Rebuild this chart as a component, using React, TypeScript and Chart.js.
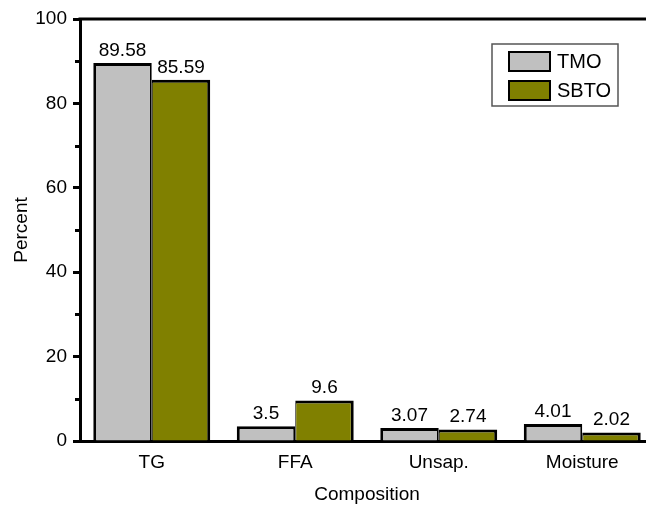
import { useEffect, useRef } from 'react';
import { Chart, registerables } from 'chart.js';

Chart.register(...registerables);

// Composition categories and the two oil series (percent)
const categories = ['TG', 'FFA', 'Unsap.', 'Moisture'];
const seriesNames = ['TMO', 'SBTO'];
const tmoValues = [89.58, 3.5, 3.07, 4.01];
const sbtoValues = [85.59, 9.6, 2.74, 2.02];
const seriesColors = ['#c0c0c0', '#808000'];

// Value axis: labelled every 20, small ticks every 10
const yMin = 0;
const yMax = 100;
const yMajorStep = 20;
const yMinorStep = 10;

const FONT = '"Liberation Sans", Arial, Helvetica, sans-serif';

// Frame line across the top of the plot and the short minor ticks on the y axis
const framePlugin = {
  id: 'frame',
  afterDraw(chart: any) {
    const { ctx, chartArea } = chart;
    const y = chart.scales.y;
    ctx.save();
    ctx.strokeStyle = '#000';
    ctx.lineWidth = 3;
    ctx.beginPath();
    ctx.moveTo(chartArea.left - 1.5, chartArea.top);
    ctx.lineTo(chartArea.right, chartArea.top);
    ctx.stroke();
    for (let v = yMin; v <= yMax; v += yMinorStep) {
      if (v % yMajorStep === 0) continue;
      const py = Math.round(y.getPixelForValue(v)) + 0.5;
      ctx.beginPath();
      ctx.moveTo(chartArea.left - 5, py);
      ctx.lineTo(chartArea.left, py);
      ctx.stroke();
    }
    ctx.restore();
  },
};

// Value labels above each bar
const valueLabelPlugin = {
  id: 'valueLabels',
  afterDatasetsDraw(chart: any) {
    const { ctx } = chart;
    ctx.save();
    ctx.font = `19px ${FONT}`;
    ctx.fillStyle = '#000';
    ctx.textAlign = 'center';
    ctx.textBaseline = 'alphabetic';
    chart.data.datasets.forEach((ds: any, i: number) => {
      const meta = chart.getDatasetMeta(i);
      meta.data.forEach((bar: any, j: number) => {
        ctx.fillText(String(ds.data[j]), bar.x, bar.y - 7);
      });
    });
    ctx.restore();
  },
};

// Boxed legend in the upper right of the plot
const boxLegendPlugin = {
  id: 'boxLegend',
  afterDraw(chart: any) {
    const { ctx } = chart;
    const left = 492;
    const top = 44;
    const width = 126;
    const height = 62;
    ctx.save();
    ctx.fillStyle = '#fff';
    ctx.fillRect(left, top, width, height);
    ctx.strokeStyle = '#555';
    ctx.lineWidth = 1.5;
    ctx.strokeRect(left, top, width, height);
    ctx.font = `20px ${FONT}`;
    ctx.textAlign = 'left';
    ctx.textBaseline = 'middle';
    chart.data.datasets.forEach((ds: any, i: number) => {
      const sx = left + 17;
      const sy = top + 8 + i * 29;
      ctx.fillStyle = ds.backgroundColor;
      ctx.fillRect(sx, sy, 41, 19);
      ctx.strokeStyle = '#000';
      ctx.lineWidth = 2;
      ctx.strokeRect(sx, sy, 41, 19);
      ctx.fillStyle = '#000';
      ctx.fillText(ds.label, sx + 48, sy + 10);
    });
    ctx.restore();
  },
};

export default function App() {
  const canvasRef = useRef<HTMLCanvasElement | null>(null);

  useEffect(() => {
    const canvas = canvasRef.current;
    if (!canvas) return;
    Chart.defaults.font.family = FONT;
    const chart = new Chart(canvas, {
      type: 'bar',
      data: {
        labels: categories,
        datasets: [
          {
            label: seriesNames[0],
            data: tmoValues,
            backgroundColor: seriesColors[0],
            borderColor: '#000',
            borderWidth: { top: 3, left: 3, right: 2, bottom: 0 },
            borderSkipped: 'start',
            categoryPercentage: 0.815,
            barPercentage: 1,
          },
          {
            label: seriesNames[1],
            data: sbtoValues,
            backgroundColor: seriesColors[1],
            borderColor: '#000',
            borderWidth: { top: 3, left: 1, right: 3, bottom: 0 },
            borderSkipped: 'start',
            categoryPercentage: 0.815,
            barPercentage: 1,
          },
        ],
      },
      options: {
        responsive: false,
        animation: false,
        devicePixelRatio: 1,
        layout: { padding: { top: 19, right: 2, bottom: 0, left: 0 } },
        plugins: {
          legend: { display: false },
          tooltip: { enabled: false },
        },
        scales: {
          x: {
            grid: { display: false, drawTicks: false },
            border: { display: true, color: '#000', width: 3 },
            ticks: { color: '#000', font: { size: 19 }, padding: 10 },
            title: {
              display: true,
              text: 'Composition',
              color: '#000',
              font: { size: 19 },
              padding: { top: 0, bottom: 0 },
            },
            afterFit(scale: any) {
              scale.height = 65;
            },
          },
          y: {
            min: yMin,
            max: yMax,
            grid: {
              drawOnChartArea: false,
              drawTicks: true,
              tickLength: 7,
              tickWidth: 3,
              tickColor: (c: any) =>
                c.tick && c.tick.value % yMajorStep === 0 ? '#000' : 'rgba(0,0,0,0)',
            },
            border: { display: true, color: '#000', width: 3 },
            ticks: {
              stepSize: yMinorStep,
              color: '#000',
              font: { size: 19 },
              padding: 6,
              callback: (v: any) => (Number(v) % yMajorStep === 0 ? String(v) : ''),
            },
            title: {
              display: true,
              text: 'Percent',
              color: '#000',
              font: { size: 19 },
              padding: { top: 10, bottom: 0 },
            },
            afterFit(scale: any) {
              scale.width = 80;
            },
          },
        },
      },
      plugins: [framePlugin, valueLabelPlugin, boxLegendPlugin],
    });
    return () => chart.destroy();
  }, []);

  return (
    <div
      style={{
        position: 'fixed',
        left: 0,
        top: 0,
        width: 646,
        height: 506,
        overflow: 'hidden',
        background: '#fff',
      }}
    >
      <canvas ref={canvasRef} width={656} height={506} style={{ display: 'block' }} />
    </div>
  );
}
